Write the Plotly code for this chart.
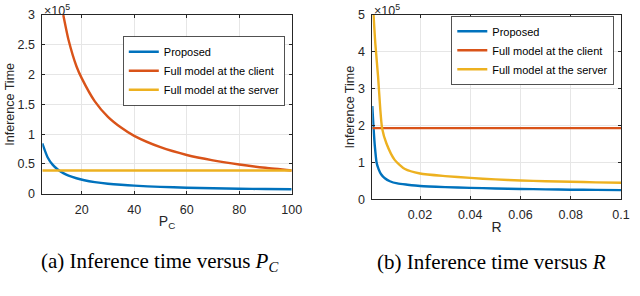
import plotly.graph_objects as go

# ---------------- data: panel (a) inference time versus P_C ----------------
pc_proposed = [5, 7, 9, 11, 13, 15, 18, 21, 25, 30, 35, 40, 50, 60, 70, 80, 90, 100]
time_proposed_a = [84500, 61300, 48400, 40200, 34500, 30400, 25900, 22600, 19500, 16800,
                   14900, 13500, 11400, 10100, 9100, 8400, 7800, 7400]
pc_client = [13, 15, 18, 20, 25, 30, 35, 40, 50, 60, 70, 80, 90, 100]
time_client_a = [300000, 258000, 214000, 194000, 155000, 129000, 111000, 97000, 78000,
                 65000, 56000, 49000, 43500, 39000]
pc_server = [5, 100]
time_server_a = [39000, 39000]

# ---------------- data: panel (b) inference time versus R ----------------
r_proposed = [0.001, 0.0015, 0.002, 0.0027, 0.0035, 0.0045, 0.006, 0.008, 0.011, 0.015,
              0.02, 0.03, 0.04, 0.05, 0.06, 0.07, 0.08, 0.09, 0.1]
time_proposed_b = [253000, 193000, 145000, 100000, 82000, 68000, 57000, 49000, 43000, 39500,
                   36000, 33000, 31000, 29500, 28000, 27000, 26000, 25500, 25000]
r_client = [0.001, 0.1]
time_client_b = [193000, 193000]
r_server = [0.0015, 0.0022, 0.0033, 0.0042, 0.0049, 0.0066, 0.0099, 0.014, 0.02, 0.03,
            0.04, 0.05, 0.06, 0.07, 0.08, 0.09, 0.1]
time_server_b = [500000, 423000, 333000, 242000, 193000, 152000, 107000, 82000, 70000,
                 63000, 58000, 54000, 51000, 49000, 47500, 46000, 45000]

series_names = ["Proposed", "Full model at the client", "Full model at the server"]
colors = ["#0072BD", "#D95319", "#EDB120"]

# tick labels
xa_ticks = [20, 40, 60, 80, 100]
ya_ticks = [0, 50000, 100000, 150000, 200000, 250000, 300000]
ya_text = ["0", "0.5", "1", "1.5", "2", "2.5", "3"]
xb_ticks = [0.02, 0.04, 0.06, 0.08, 0.1]
xb_text = ["0.02", "0.04", "0.06", "0.08", "0.1"]
yb_ticks = [0, 100000, 200000, 300000, 400000, 500000]
yb_text = ["0", "1", "2", "3", "4", "5"]

W, H = 640, 296
FONT = "Liberation Sans"
AX = "#262626"

fig = go.Figure()

panel_a = [(pc_proposed, time_proposed_a), (pc_client, time_client_a), (pc_server, time_server_a)]
panel_b = [(r_proposed, time_proposed_b), (r_client, time_client_b), (r_server, time_server_b)]

for i, (x, y) in enumerate(panel_a):
    fig.add_trace(go.Scatter(x=x, y=y, mode="lines", name=series_names[i],
                             line=dict(color=colors[i], width=2.4, shape="spline", smoothing=0.6),
                             xaxis="x", yaxis="y", legend="legend"))
for i, (x, y) in enumerate(panel_b):
    fig.add_trace(go.Scatter(x=x, y=y, mode="lines", name=series_names[i],
                             line=dict(color=colors[i], width=2.4, shape="spline", smoothing=0.6),
                             xaxis="x2", yaxis="y2", legend="legend2"))


def px_x(p):
    return p / W


def px_y(p):
    return 1 - p / H


common_axis = dict(ticks="inside", ticklen=3, tickcolor=AX, mirror="ticks", showline=True,
                   linecolor=AX, linewidth=0.8, showgrid=True, gridcolor="#e6e6e6",
                   gridwidth=0.8, zeroline=False, automargin=False, ticklabeloverflow="allow",
                   tickfont=dict(family=FONT, size=12.5, color=AX))

fig.update_layout(
    width=W, height=H,
    margin=dict(l=0, r=0, t=0, b=0, autoexpand=False),
    paper_bgcolor="white", plot_bgcolor="white",
    xaxis=dict(domain=[px_x(42.3), px_x(291.7)], range=[5, 100], tickvals=xa_ticks,
               anchor="y", ticklabelstandoff=4,
               title=dict(text="P<sub>C</sub>", font=dict(family=FONT, size=14, color=AX), standoff=0),
               **common_axis),
    yaxis=dict(domain=[px_y(193.7), px_y(15)], range=[0, 300000], tickvals=ya_ticks, ticktext=ya_text,
               anchor="x", ticklabelstandoff=4,
               title=dict(text="Inference Time", font=dict(family=FONT, size=12.5, color=AX), standoff=0),
               **common_axis),
    xaxis2=dict(domain=[px_x(372.3), px_x(621)], range=[0.001, 0.1], tickvals=xb_ticks, ticktext=xb_text,
                anchor="y2", ticklabelstandoff=4,
                title=dict(text="R", font=dict(family=FONT, size=14, color=AX), standoff=0),
                **common_axis),
    yaxis2=dict(domain=[px_y(199.3), px_y(15)], range=[0, 500000], tickvals=yb_ticks, ticktext=yb_text,
                anchor="x2", ticklabelstandoff=4,
                title=dict(text="Inference Time", font=dict(family=FONT, size=12.5, color=AX), standoff=0),
                **common_axis),
    legend=dict(x=px_x(204), y=px_y(71), xanchor="center", yanchor="middle", bgcolor="white",
                bordercolor=AX, borderwidth=0.8, font=dict(family=FONT, size=11, color="black"),
                itemwidth=30, tracegroupgap=0),
    legend2=dict(x=px_x(532.5), y=px_y(50.5), xanchor="center", yanchor="middle", bgcolor="white",
                 bordercolor=AX, borderwidth=0.8, font=dict(family=FONT, size=11, color="black"),
                 itemwidth=30, tracegroupgap=0),
    showlegend=True,
)

annotations = [
    dict(text="×10<sup>5</sup>", x=px_x(42), y=px_y(0)),
    dict(text="×10<sup>5</sup>", x=px_x(372), y=px_y(0)),
]
for a in annotations:
    fig.add_annotation(xref="paper", yref="paper", showarrow=False, xanchor="left", yanchor="top",
                       font=dict(family=FONT, size=12.5, color=AX), **a)

captions = [
    dict(text="(a) Inference time versus <i>P<sub>C</sub></i>", x=px_x(159.5)),
    dict(text="(b) Inference time versus <i>R</i>", x=px_x(491.5)),
]
for c in captions:
    fig.add_annotation(xref="paper", yref="paper", y=px_y(262), xanchor="center", yanchor="middle",
                       showarrow=False, font=dict(family="Liberation Serif", size=21, color="black"), **c)

fig.write_html("out.html", config={"displayModeBar": False},
               post_script="document.body.style.margin='0';document.body.style.overflow='hidden';")
